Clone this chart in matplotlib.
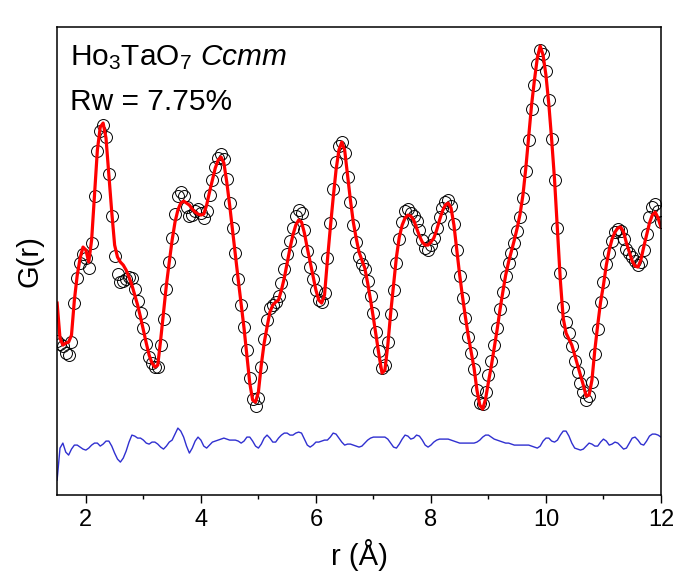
import numpy as np
import matplotlib
matplotlib.use("Agg")
import matplotlib.pyplot as plt

plt.rcParams["font.family"] = ["Liberation Sans", "DejaVu Sans"]
plt.rcParams["mathtext.fontset"] = "custom"
plt.rcParams["mathtext.rm"] = "Liberation Sans"
plt.rcParams["mathtext.it"] = "Liberation Sans:italic"

# r grid of the points (step 0.05 A)
r_start, r_step = 1.50, 0.05

# calculated PDF (red line), arbitrary units
g_calc = [
    -0.3, -3.8, -4.5, -4.3, -4.2, -3.5, 0.0, 2.5, 4.2, 5.3,
    5.0, 3.8, 6.0, 10.5, 15.0, 17.3, 17.7, 16.2, 12.5, 8.8,
    5.5, 4.3, 3.8, 3.5, 3.0, 2.3, 1.5, 0.5, -0.5, -1.7,
    -3.0, -4.3, -5.5, -6.3, -6.7, -6.5, -4.0, -1.2, 1.5, 3.8,
    6.0, 7.8, 9.0, 9.7, 9.9, 9.7, 9.5, 9.1, 8.8, 8.6,
    8.5, 8.6, 9.5, 10.8, 12.0, 13.2, 14.0, 14.3, 13.7, 11.8,
    9.5, 7.0, 4.5, 2.0, -0.4, -2.8, -5.5, -8.3, -10.0, -10.2,
    -9.2, -6.5, -4.3, -2.7, -1.2, -0.5, -0.2, 0.0, 1.0, 2.2,
    3.7, 5.2, 6.5, 7.5, 8.0, 7.8, 6.7, 5.2, 3.8, 2.4,
    1.0, 0.0, -0.3, 0.5, 4.0, 7.2, 10.2, 13.0, 15.0, 15.8,
    15.0, 12.5, 10.0, 7.8, 6.2, 4.8, 4.0, 3.2, 1.7, 0.0,
    -1.8, -3.7, -5.6, -7.3, -7.0, -4.5, -1.3, 1.5, 4.3, 6.3,
    7.5, 8.2, 8.5, 8.4, 8.0, 7.2, 6.4, 5.8, 5.5, 5.5,
    5.8, 6.2, 7.0, 8.0, 8.9, 9.5, 9.7, 9.2, 7.5, 5.0,
    2.5, 0.3, -1.7, -3.6, -5.2, -6.8, -9.0, -10.5, -10.9, -9.9,
    -8.2, -6.6, -4.8, -3.0, -1.0, 0.8, 2.5, 3.8, 4.9, 6.0,
    7.2, 8.6, 10.5, 13.2, 16.3, 19.5, 22.0, 24.2, 25.4, 24.5,
    22.5, 19.6, 16.0, 12.0, 7.0, 2.0, -1.8, -3.3, -3.9, -4.5,
    -5.5, -6.5, -7.5, -8.5, -9.6, -9.5, -8.0, -5.0, -2.5, -0.2,
    1.5, 3.5, 5.0, 6.1, 6.8, 7.2, 7.3, 6.8, 5.7, 4.8,
    3.9, 3.4, 3.3, 4.0, 5.3, 6.5, 7.7, 8.5, 8.8, 8.2,
    7.3,
]

# difference curve (obs - calc)
g_diff = [
    -3.8, -0.6, -0.1, -1.0, -1.3, -0.7, -0.3, -0.3, -0.5, -0.7,
    -0.8, -0.6, -0.3, -0.1, -0.1, -0.4, -0.2, 0.1, 0.1, -0.4,
    -1.1, -1.7, -2.0, -1.6, -0.9, 0.0, 0.7, 0.6, 0.4, 0.4,
    0.2, -0.1, -0.2, 0.0, 0.0, -0.2, -0.5, -0.7, -0.4, 0.0,
    0.2, 0.8, 1.4, 1.1, 0.5, -0.4, -1.1, -0.6, 0.1, 0.5,
    0.2, -0.4, -0.6, -0.3, 0.0, 0.1, 0.2, 0.3, 0.4, 0.3,
    0.2, 0.2, 0.2, 0.1, -0.1, 0.1, 0.5, 0.5, 0.1, -0.4,
    -0.6, -0.2, 0.4, 0.7, 0.4, 0.0, 0.0, 0.4, 0.7, 0.9,
    0.9, 0.7, 0.7, 0.9, 1.0, 0.9, 0.3, -0.3, -0.5, -0.3,
    0.0, 0.0, 0.1, 0.2, 0.2, 0.5, 0.9, 0.8, 0.4, 0.0,
    -0.3, -0.2, -0.2, -0.3, -0.4, -0.5, -0.4, -0.1, 0.2, 0.4,
    0.5, 0.5, 0.5, 0.5, 0.5, 0.3, -0.1, -0.5, -0.6, -0.2,
    0.3, 0.7, 0.6, 0.3, 0.4, 0.7, 0.6, 0.2, -0.3, -0.5,
    -0.3, 0.0, 0.2, 0.3, 0.3, 0.3, 0.3, 0.2, 0.1, 0.0,
    -0.1, -0.1, -0.1, -0.1, -0.1, -0.1, 0.0, 0.2, 0.5, 0.7,
    0.7, 0.5, 0.3, 0.2, 0.1, 0.0, -0.1, -0.1, -0.2, -0.3,
    -0.3, -0.3, -0.3, -0.3, -0.3, -0.4, -0.5, -0.6, -0.4, 0.1,
    0.4, 0.4, 0.1, 0.0, 0.2, 0.7, 1.1, 1.1, 0.6, -0.1,
    -0.6, -0.7, -0.8, -0.7, -0.4, -0.1, -0.2, -0.4, -0.4, 0.0,
    0.3, 0.1, -0.3, -0.2, 0.0, -0.1, -0.4, -0.7, -0.6, -0.1,
    0.4, 0.5, 0.2, -0.2, -0.3, 0.1, 0.6, 0.8, 0.8, 0.7,
    0.5,
]

diff_offset = -14.2

assert len(g_calc) == len(g_diff), (len(g_calc), len(g_diff))
r = r_start + r_step * np.arange(len(g_calc))
g_calc = np.array(g_calc)
g_diff = np.array(g_diff)
g_obs = g_calc + g_diff

fig = plt.figure(figsize=(6.8, 5.88), dpi=100)
ax = fig.add_axes([0.084, 0.158, 0.888, 0.796])

ax.plot(r, g_obs, linestyle="none", marker="o", markersize=8.6,
        markerfacecolor="none", markeredgecolor="black", markeredgewidth=0.7)
ax.plot(r, g_calc, color="#ff0000", lw=2.3)
ax.plot(r, g_diff + diff_offset, color="#3030d0", lw=1.0)

ax.set_xlim(1.5, 12)
ax.set_ylim(-19.5, 27.3)
ax.set_xticks([2, 4, 6, 8, 10, 12])
ax.set_xticks([3, 5, 7, 9, 11], minor=True)
ax.set_yticks([])
ax.tick_params(axis="x", which="major", direction="out", length=6, width=1,
               labelsize=17, pad=4)
ax.tick_params(axis="x", which="minor", direction="out", length=3, width=1)
for sp in ax.spines.values():
    sp.set_linewidth(1.1)

ax.set_xlabel("r (Å)", fontsize=21, labelpad=6)
ax.set_ylabel("G(r)", fontsize=21, labelpad=10)

ax.text(0.021, 0.966, "Ho$_3$TaO$_7$ $\\mathit{Ccmm}$", transform=ax.transAxes,
        fontsize=21.5, va="top", ha="left")
ax.text(0.021, 0.87, "Rw = 7.75%", transform=ax.transAxes,
        fontsize=21.5, va="top", ha="left")

fig.savefig("out.png", dpi=100)
